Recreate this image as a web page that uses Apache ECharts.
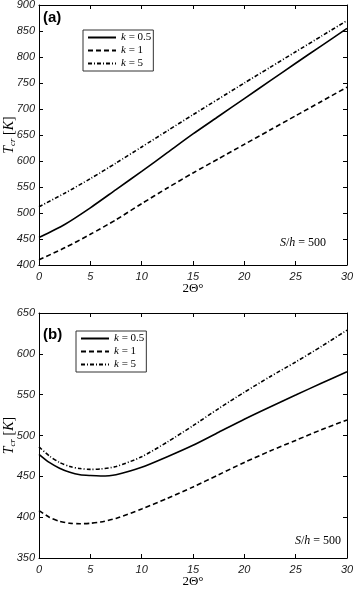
<!DOCTYPE html>
<html lang="en">
<head>
    <meta charset="UTF-8">
    <script src="https://cdn.jsdelivr.net/npm/echarts@6/dist/echarts.min.js"></script>
    <title>Tcr vs 2Theta</title>
</head>
<style>
    body{
        margin: 0;
        padding: 0;
        background: #fff;
    }
</style>
<body>
<div id="main" style="width: 355px;height:589px;"></div>
</body>
<script>
    // panel (a)
    var thetaA = [0, 2.5, 5, 7.5, 10, 12.5, 15, 17.5, 20, 22.5, 25, 27.5, 30];
    var tcrA_k05 = [453, 478, 510, 545, 580, 616, 652, 686, 720, 754, 788, 821.5, 855];
    var tcrA_k1 = [410, 433, 459, 487, 518, 548, 577, 604.5, 632, 659.5, 687, 714.5, 742];
    var tcrA_k5 = [512, 538, 566, 596, 627, 658, 689, 719.5, 750, 780, 810, 840, 870];

    // panel (b)
    var thetaB = [0, 1, 2, 3, 4, 5, 6, 7.5, 10, 12.5, 15, 17.5, 20, 22.5, 25, 27.5, 30];
    var tcrB_k05 = [477, 467, 460, 455, 452, 451, 450.5, 452, 461, 474, 488, 504, 520, 535, 549.5, 564, 578];
    var tcrB_k1 = [408, 400, 395, 392.5, 392, 392.5, 394, 398.5, 410, 423, 437, 452, 467, 481, 494, 507, 519];
    var tcrB_k5 = [486, 475, 467, 462, 459.5, 458.5, 459, 462, 474, 492, 512, 533, 553, 572, 590, 609, 629];

    var names = ['k = 0.5', 'k = 1', 'k = 5'];

    function pairs(xs, ys) {
        var out = [];
        for (var i = 0; i < xs.length; i++) out.push([xs[i], ys[i]]);
        return out;
    }

    var tickFont = {fontFamily: 'Liberation Sans', fontStyle: 'italic', fontSize: 11, color: '#1a1a1a'};
    var lineBlack = {onZero: false, lineStyle: {color: '#000', width: 1}};

    function xAx(grid, pos, labels) {
        return {
            type: 'value', gridIndex: grid, position: pos, min: 0, max: 30, interval: 5,
            axisLine: lineBlack, splitLine: {show: false},
            axisTick: {show: true, inside: true, length: 4, lineStyle: {color: '#000'}},
            axisLabel: labels ? Object.assign({margin: 6}, tickFont) : {show: false},
            name: labels ? '2Θ°' : '', nameLocation: 'middle', nameGap: 17, nameMoveOverlap: false,
            nameTextStyle: {fontFamily: 'Liberation Serif', fontSize: 13, color: '#000'}
        };
    }
    function yAx(grid, pos, min, max, labels) {
        return {
            type: 'value', gridIndex: grid, position: pos, min: min, max: max, interval: 50,
            axisLine: lineBlack, splitLine: {show: false},
            axisTick: {show: true, inside: true, length: 4, lineStyle: {color: '#000'}},
            axisLabel: labels ? Object.assign({margin: 4}, tickFont) : {show: false},
            name: labels ? '{t|T}{s|cr} [{t|K}]' : '', nameLocation: 'middle', nameGap: 22, nameRotate: 90,
            nameMoveOverlap: false,
            nameTextStyle: {
                fontFamily: 'Liberation Serif', fontSize: 14, color: '#000',
                rich: {
                    t: {fontFamily: 'Liberation Serif', fontStyle: 'italic', fontSize: 14, color: '#000'},
                    s: {fontFamily: 'Liberation Serif', fontStyle: 'italic', fontSize: 9, color: '#000', padding: [6, 0, 0, 0]}
                }
            }
        };
    }

    function ser(name, xi, data, type) {
        return {
            name: name, type: 'line', xAxisIndex: xi, yAxisIndex: xi,
            data: data, showSymbol: false, symbol: 'none', smooth: 0.25,
            lineStyle: {color: '#000', width: 1.6, type: type},
            itemStyle: {color: '#000'},
            animation: false
        };
    }

    var dashStyle = [5, 3];
    var dotDash = [4, 2, 1, 2];

    function legendAt(left, top) {
        return {
            data: names, orient: 'vertical', left: left, top: top, selectedMode: false,
            itemWidth: 28, itemHeight: 10, itemGap: 2,
            itemStyle: {color: 'transparent', borderWidth: 0},
            borderColor: '#333', borderWidth: 1, backgroundColor: '#fff', borderRadius: 0,
            padding: [2, 2, 2, 4],
            textStyle: {
                fontFamily: 'Liberation Serif', fontSize: 11, color: '#000',
                rich: {k: {fontFamily: 'Liberation Serif', fontStyle: 'italic', fontSize: 11, color: '#000'}}
            },
            formatter: function (name) {
                return '{k|k} = ' + name.split('= ')[1];
            }
        };
    }

    var shStyle = {
        text: '{i|S}/{i|h} = 500', font: '12px Liberation Serif', fill: '#000',
        rich: {i: {fontFamily: 'Liberation Serif', fontStyle: 'italic', fontSize: 12, color: '#000'}}
    };

    var chart = echarts.init(document.getElementById('main'));
    var option = {
        backgroundColor: '#fff',
        animation: false,
        grid: [
            {left: 39, top: 5, width: 308, height: 260, outerBoundsMode: 'none'},
            {left: 39, top: 313, width: 308, height: 245, outerBoundsMode: 'none'}
        ],
        xAxis: [xAx(0, 'bottom', true), xAx(0, 'top', false), xAx(1, 'bottom', true), xAx(1, 'top', false)],
        yAxis: [yAx(0, 'left', 400, 900, true), yAx(0, 'right', 400, 900, false),
                yAx(1, 'left', 350, 650, true), yAx(1, 'right', 350, 650, false)],
        legend: [legendAt(83, 30), legendAt(76, 331)],
        series: [
            ser(names[0], 0, pairs(thetaA, tcrA_k05), 'solid'),
            ser(names[1], 0, pairs(thetaA, tcrA_k1), dashStyle),
            ser(names[2], 0, pairs(thetaA, tcrA_k5), dotDash),
            ser(names[0], 2, pairs(thetaB, tcrB_k05), 'solid'),
            ser(names[1], 2, pairs(thetaB, tcrB_k1), dashStyle),
            ser(names[2], 2, pairs(thetaB, tcrB_k5), dotDash)
        ],
        graphic: [
            {type: 'text', left: 43, top: 10, style: {text: '(a)', font: 'bold 15px Liberation Sans', fill: '#000'}},
            {type: 'text', left: 43, top: 327, style: {text: '(b)', font: 'bold 15px Liberation Sans', fill: '#000'}},
            {type: 'text', left: 280, top: 237, style: shStyle},
            {type: 'text', left: 295, top: 535, style: shStyle}
        ]
    };
    chart.setOption(option);
</script>
</html>
